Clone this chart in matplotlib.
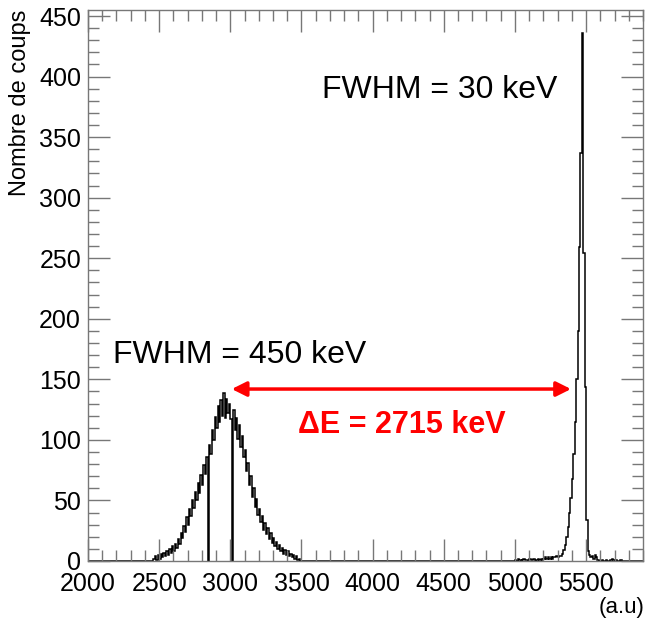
import numpy as np
import matplotlib.pyplot as plt
from matplotlib.ticker import MultipleLocator

plt.rcParams['font.family'] = ['Liberation Sans', 'DejaVu Sans']

# histogramme (largeur de bin = 10 a.u.)
bin_width = 10
x_min, x_max = 2000, 5900

# pic large (source 1), bins a partir de 2450
left_start = 2450
left_counts = [0, 2, 4, 1, 5, 2, 6, 3, 7, 4,
               8, 5, 10, 7, 12, 8, 14, 11, 18, 14,
               23, 19, 29, 24, 36, 30, 43, 37, 50, 44,
               57, 50, 64, 56, 71, 63, 79, 72, 86, 0,
               96, 88, 108, 100, 119, 110, 128, 115, 133, 120,
               139, 118, 134, 122, 130, 117, 0, 125, 108, 118,
               101, 112, 94, 103, 86, 92, 74, 81, 63, 70,
               53, 60, 45, 51, 38, 43, 32, 37, 26, 31,
               22, 27, 18, 23, 15, 19, 12, 16, 10, 13,
               8, 11, 6, 9, 5, 8, 4, 6, 3, 5,
               2, 4, 1, 2, 0]

# pic fin (source 2), bins a partir de 5000
right_start = 5000
right_counts = [1, 0, 2, 1, 0, 1, 2, 1, 1, 0,
                2, 1, 1, 2, 0, 1, 2, 1, 2, 1,
                2, 3, 2, 3, 2, 3, 2, 3, 3, 4,
                3, 4, 4, 6, 9, 13, 20, 28, 40, 52,
                68, 88, 115, 150, 190, 259, 337, 436, 254, 144,
                34, 8, 5, 3, 4, 2, 5, 3, 1, 0,
                0, 1, 0, 0, 1, 0, 0, 1, 2, 1,
                0, 1, 0, 0, 1, 0, 0, 0]

edges = np.arange(x_min, x_max + bin_width, bin_width)
counts = np.zeros(len(edges) - 1)
i0 = (left_start - x_min) // bin_width
counts[i0:i0 + len(left_counts)] = left_counts
i1 = (right_start - x_min) // bin_width
counts[i1:i1 + len(right_counts)] = right_counts

fig = plt.figure(figsize=(6.54, 6.25), dpi=100)
ax = fig.add_axes([88 / 654, 1 - 561 / 625, 555 / 654, 551 / 625])

ax.stairs(counts, edges, color='black', lw=1.1)

ax.set_xlim(x_min, x_max)
ax.set_ylim(0, 455)

# style ROOT : ticks a l'interieur sur les 4 cotes
ax.xaxis.set_major_locator(MultipleLocator(500))
ax.xaxis.set_minor_locator(MultipleLocator(100))
ax.yaxis.set_major_locator(MultipleLocator(50))
ax.yaxis.set_minor_locator(MultipleLocator(10))
ax.tick_params(which='both', direction='in', top=True, right=True,
               color='#777777', labelsize=18)
ax.tick_params(which='major', length=16, width=1)
ax.tick_params(which='minor', length=8, width=1)
ax.tick_params(axis='x', pad=8)
ax.tick_params(axis='y', pad=5)
ax.set_xticks([2000, 2500, 3000, 3500, 4000, 4500, 5000, 5500])
for s in ax.spines.values():
    s.set_color('#777777')
    s.set_linewidth(1)

ax.set_ylabel('Nombre de coups', fontsize=17, loc='top', labelpad=6)
fig.text(645 / 654, 1 - 608 / 625, '(a.u)', fontsize=16, ha='right', va='center')

ax.text(3641, 389, 'FWHM = 30 keV', fontsize=23, va='center')
ax.text(2175, 170, 'FWHM = 450 keV', fontsize=23, va='center')
ax.text(3473, 112, '\u0394E = 2715 keV', fontsize=22, color='red',
        fontweight='bold', va='center')
ax.annotate('', xy=(3010, 142), xytext=(5394, 142),
            arrowprops=dict(arrowstyle='<|-|>', color='red', lw=2.5,
                            mutation_scale=22, shrinkA=0, shrinkB=0))

plt.savefig('out.png', dpi=100)
